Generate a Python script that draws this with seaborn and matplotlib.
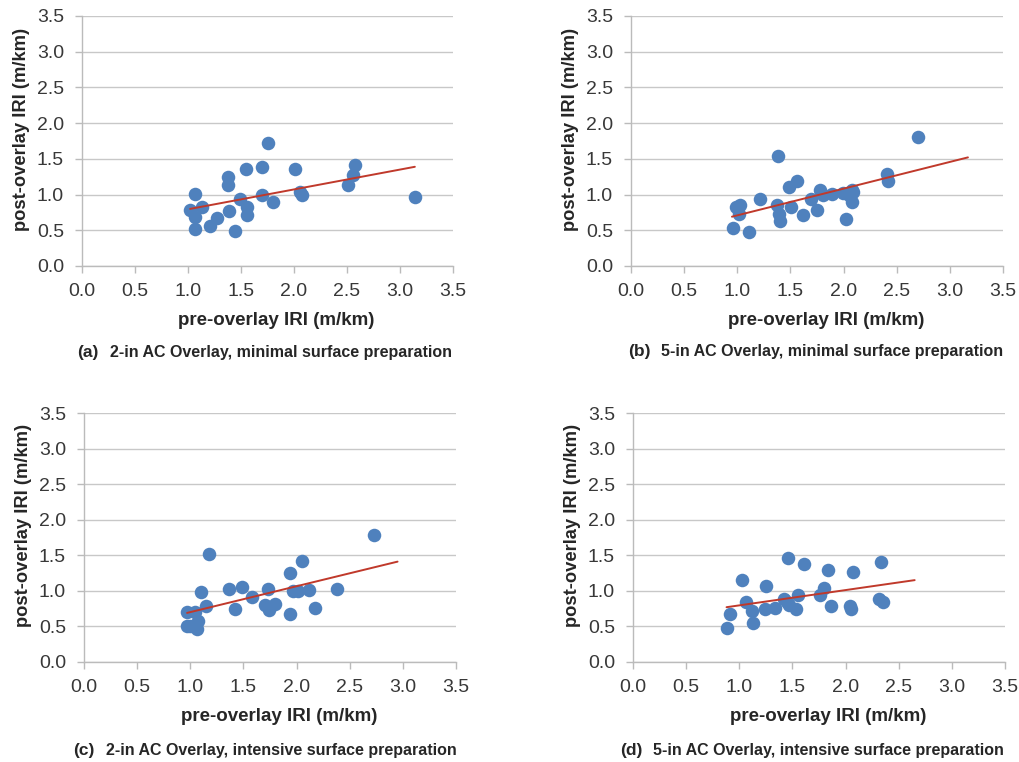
import matplotlib
matplotlib.use("Agg")
import matplotlib.pyplot as plt
import seaborn as sns
import numpy as np
import pandas as pd

# pre-overlay / post-overlay IRI (m/km)
a_pre = [1.02, 1.07, 1.07, 1.07, 1.13, 1.21, 1.27, 1.38, 1.38, 1.39, 1.44, 1.49, 1.55,
         1.56, 1.56, 1.70, 1.70, 1.75, 1.80, 2.01, 2.06, 2.08, 2.51, 2.56, 2.58, 3.14]
a_post = [0.78, 1.01, 0.68, 0.52, 0.83, 0.56, 0.67, 1.24, 1.14, 0.77, 0.49, 0.94, 1.36,
          0.82, 0.72, 1.38, 1.00, 1.72, 0.89, 1.36, 1.03, 0.99, 1.13, 1.28, 1.42, 0.96]

b_pre = [0.96, 0.99, 1.03, 1.02, 1.11, 1.21, 1.38, 1.37, 1.39, 1.40, 1.49, 1.51, 1.56, 1.62,
         1.69, 1.75, 1.78, 1.81, 1.89, 1.99, 2.02, 2.05, 2.08, 2.09, 2.08, 2.41, 2.42, 2.70]
b_post = [0.53, 0.82, 0.85, 0.73, 0.48, 0.94, 1.54, 0.85, 0.73, 0.63, 1.11, 0.82, 1.19, 0.71,
          0.94, 0.78, 1.07, 0.99, 1.01, 1.02, 0.66, 1.00, 1.06, 1.04, 0.90, 1.29, 1.19, 1.80]

c_pre = [0.97, 0.97, 1.04, 1.07, 1.06, 1.00, 1.10, 1.18, 1.15, 1.36, 1.42, 1.49, 1.58, 1.70,
         1.73, 1.74, 1.80, 1.94, 1.94, 1.97, 2.01, 2.05, 2.12, 2.17, 2.38, 2.73]
c_post = [0.50, 0.70, 0.70, 0.58, 0.47, 0.51, 0.98, 1.52, 0.79, 1.03, 0.75, 1.06, 0.92, 0.80,
          1.02, 0.73, 0.81, 1.25, 0.68, 1.00, 1.00, 1.42, 1.01, 0.76, 1.03, 1.78]

d_pre = [0.88, 0.91, 1.03, 1.06, 1.12, 1.13, 1.24, 1.25, 1.34, 1.42, 1.46, 1.45, 1.47, 1.53,
         1.55, 1.61, 1.76, 1.80, 1.83, 1.86, 2.04, 2.05, 2.07, 2.33, 2.31, 2.35]
d_post = [0.48, 0.67, 1.15, 0.84, 0.72, 0.55, 0.75, 1.07, 0.76, 0.89, 1.46, 0.84, 0.80, 0.74,
          0.94, 1.38, 0.94, 1.04, 1.30, 0.79, 0.79, 0.75, 1.27, 1.41, 0.89, 0.84]

# linear trendlines: slope, intercept, x range
trend_slope = [0.278, 0.374, 0.364, 0.215]
trend_intercept = [0.516, 0.335, 0.337, 0.581]
trend_start = [1.02, 0.95, 0.97, 0.88]
trend_end = [3.14, 3.17, 2.95, 2.65]

captions = ["2-in AC Overlay, minimal surface preparation",
            "5-in AC Overlay, minimal surface preparation",
            "2-in AC Overlay, intensive surface preparation",
            "5-in AC Overlay, intensive surface preparation"]
letters = ["(a)", "(b)", "(c)", "(d)"]
ticks = [0.0, 0.5, 1.0, 1.5, 2.0, 2.5, 3.0, 3.5]

sns.set_style("white")
plt.rcParams['font.family'] = ['Liberation Sans', 'DejaVu Sans']

W, H = 1019, 762
fig = plt.figure(figsize=(W / 100, H / 100), dpi=100)

# axes boxes in pixels: left, top, right, bottom
boxes = [(82, 16, 453, 266), (631, 16, 1003, 266),
         (84, 413, 456, 662), (633, 413, 1005, 662)]
cap_pos = [(77, 352), (628, 351), (73, 750), (620, 750)]
data = [(a_pre, a_post), (b_pre, b_post), (c_pre, c_post), (d_pre, d_post)]

blue = "#4F81BD"
red = "#C0392B"
grid = "#C8C8C8"

for i, (box, (xs, ys)) in enumerate(zip(boxes, data)):
    l, t, r, b = box
    ax = fig.add_axes([l / W, 1 - b / H, (r - l) / W, (b - t) / H])
    df = pd.DataFrame({"pre": xs, "post": ys})
    sns.scatterplot(data=df, x="pre", y="post", ax=ax, color=blue, s=95,
                    edgecolor=blue, linewidth=0, zorder=3)
    tx = np.array([trend_start[i], trend_end[i]])
    trend = pd.DataFrame({"pre": tx, "post": trend_slope[i] * tx + trend_intercept[i]})
    sns.lineplot(data=trend, x="pre", y="post", ax=ax, color=red, linewidth=1.4, zorder=4)

    ax.set_xlim(0, 3.5)
    ax.set_ylim(0, 3.5)
    ax.set_xticks(ticks)
    ax.set_yticks(ticks)
    ax.set_xticklabels([f"{v:.1f}" for v in ticks])
    ax.set_yticklabels([f"{v:.1f}" for v in ticks])
    ax.yaxis.grid(True, color=grid, linewidth=1.0)
    ax.set_axisbelow(True)
    for s in ["top", "right"]:
        ax.spines[s].set_visible(False)
    for s in ["left", "bottom"]:
        ax.spines[s].set_color("#BBBBBB")
        ax.spines[s].set_linewidth(1.0)
    ax.tick_params(axis="both", which="both", length=5, width=1.0, color="#BBBBBB",
                   labelsize=14, labelcolor="#383838", direction="out",
                   bottom=True, left=True)
    ax.tick_params(axis="x", pad=7)
    ax.tick_params(axis="y", pad=8)
    ax.set_xlabel("pre-overlay IRI (m/km)", fontsize=13.5, fontweight="bold", labelpad=9)
    ax.set_ylabel("post-overlay IRI (m/km)", fontsize=13.2, fontweight="bold", labelpad=5)
    ax.xaxis.label.set_x(0.524)
    ax.yaxis.label.set_y(0.548)

    cx, cy = cap_pos[i]
    fig.text(cx / W, 1 - cy / H, letters[i], fontsize=12.5, fontweight="bold",
             va="center", ha="left")
    fig.text((cx + 33) / W, 1 - cy / H, captions[i], fontsize=11.5, fontweight="bold",
             va="center", ha="left")

fig.savefig("out.png", dpi=100, facecolor="white")
